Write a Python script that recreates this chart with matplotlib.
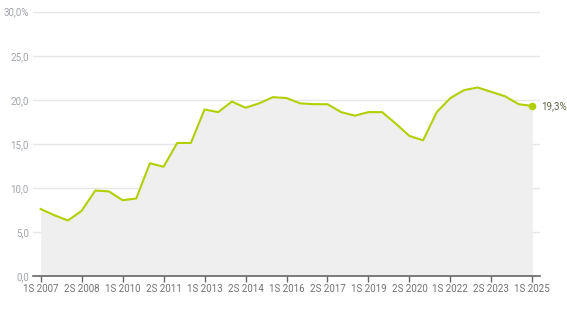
import matplotlib.pyplot as plt

periods = [f"{h}S {y}" for y in range(2007, 2026) for h in (1, 2)][:37]
values = [7.6, 6.9, 6.3, 7.4, 9.7, 9.6, 8.6, 8.8, 12.8, 12.4,
          15.1, 15.1, 18.9, 18.6, 19.8, 19.1, 19.6, 20.3, 20.2, 19.6,
          19.5, 19.5, 18.6, 18.2, 18.6, 18.6, 17.3, 15.9, 15.4, 18.6,
          20.2, 21.1, 21.4, 20.9, 20.4, 19.5, 19.3]
yticks = [0, 5, 10, 15, 20, 25, 30]
ylabels = ["0,0", "5,0", "10,0", "15,0", "20,0", "25,0", "30,0%"]

plt.rcParams['font.family'] = ['Roboto', 'DejaVu Sans']

fig = plt.figure(figsize=(5.67, 3.13), dpi=100)
ax = fig.add_axes([33 / 567, 1 - 276 / 313, (540 - 33) / 567, (276 - 11.7) / 313])

x = list(range(len(values)))
ax.fill_between(x, values, 0, color='#efefef', lw=0, zorder=1)
ax.plot(x, values, color='#b2d000', lw=1.5, zorder=3, solid_joinstyle='round')
ax.plot(x[-1], values[-1], 'o', color='#b2d000', ms=4.5, zorder=4)
ax.annotate("19,3%", (x[-1], values[-1]), xytext=(6, 0), textcoords='offset points',
            va='center', ha='left', fontsize=7, color='#5f6346')

ax.set_xlim(-0.56, 36.56)
ax.set_ylim(0, 30)
ax.set_yticks(yticks)
ax.set_yticklabels(ylabels)
ax.set_xticks(x[::3])
ax.set_xticklabels(periods[::3])
ax.grid(axis='y', color='#e6e6e6', lw=1, zorder=0)
ax.set_axisbelow(True)
for s in ['top', 'right', 'left']:
    ax.spines[s].set_visible(False)
ax.spines['bottom'].set_color('#666666')
ax.spines['bottom'].set_linewidth(1.2)
ax.tick_params(axis='y', length=0, pad=3, labelsize=7, labelcolor='#a0a4aa')
ax.tick_params(axis='x', length=4, width=1, color='#666666', pad=2, labelsize=7, labelcolor='#707070')

fig.savefig('out.png', dpi=100)
